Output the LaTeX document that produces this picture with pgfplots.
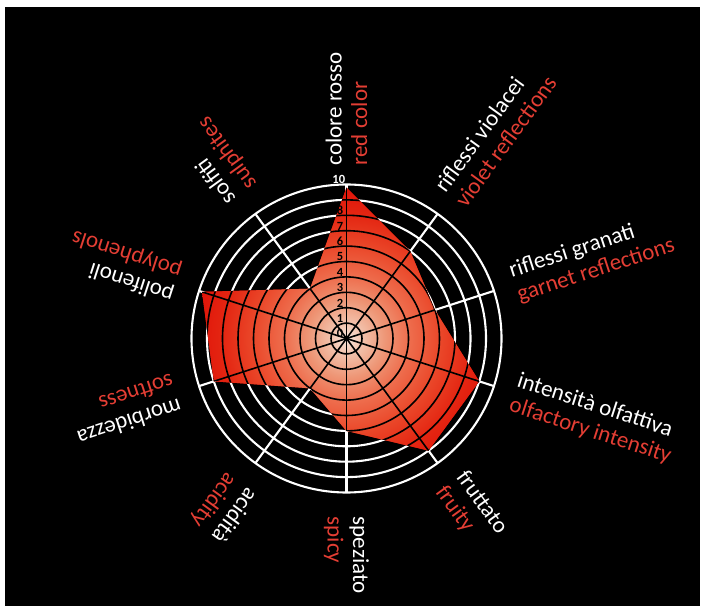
\documentclass[border=0pt]{standalone}
\usepackage{pgfplots}
\pgfplotsset{compat=1.18}
\usepackage{fontspec}
\setmainfont{Carlito}
\definecolor{g0}{RGB}{248,228,218}
\definecolor{g1}{RGB}{242,194,172}
\definecolor{g2}{RGB}{238,150,118}
\definecolor{g3}{RGB}{238,110,78}
\definecolor{g4}{RGB}{234,72,42}
\definecolor{g5}{RGB}{228,38,18}
\definecolor{g6}{RGB}{224,18,8}
\definecolor{labred}{RGB}{228,62,52}
\pgfdeclareradialshading{wine}{\pgfpoint{0bp}{0bp}}{color(0bp)=(g0); color(2.5bp)=(g1); color(6.25bp)=(g2); color(10bp)=(g3); color(15bp)=(g4); color(20bp)=(g5); color(25bp)=(g6); color(50bp)=(g6)}
\newcommand\lab{\fontsize{23bp}{25.5bp}\selectfont}
\newcommand\tk{\fontsize{12.5bp}{12.5bp}\selectfont\bfseries}
\tikzset{inner/.style={path picture={}, fill=none}}
\begin{document}
\begin{tikzpicture}
\fill[white] (0,0) rectangle (708bp,606bp);
\fill[black] (5bp,0) rectangle (700bp,599bp);
\begin{axis}[
  at={(346.5bp,267.5bp)}, anchor=origin,
  x=15.5bp, y=15.4bp,
  xmin=-10.5, xmax=10.5, ymin=-10.5, ymax=10.5,
  hide axis, clip=false,
]
\coordinate (C) at (axis cs:0,0);
\pgfplotsinvokeforeach{1,...,10}{\draw[white, line width=2.1bp] (C) ellipse [x radius=#1*15.5bp, y radius=#1*15.4bp];}
\pgfplotsinvokeforeach{90,54,18,-18,-54,-90,-126,-162,162,126}{\draw[white, line width=2.1bp] (C) -- ++({155bp*cos(#1)},{154bp*sin(#1)});}
\addplot[data cs=polar, draw=none, fill=g6, path picture={
  \shade[inner, shading=wine] (C) circle (155bp);
  \foreach \k in {1,...,10} {\draw[inner, draw=black, line width=1.6bp] (C) ellipse [x radius=\k*15.5bp, y radius=\k*15.4bp];}
  \foreach \a in {90,54,18,-18,-54,-90,-126,-162,162,126} {\draw[inner, draw=black, line width=1.6bp] (C) -- ++({155bp*cos(\a)},{154bp*sin(\a)});}
}] coordinates {(90,9.8) (54,7) (18,6) (-18,9) (-54,9) (-90,6) (-126,4) (-162,9) (162,9.8) (126,4) (90,9.8)};
\pgfplotsinvokeforeach{0,...,9}{\node[font=\tk, text=black, anchor=south, inner sep=0.3bp] at (axis cs:-0.42,#1) {#1};}
\node[font=\tk, text=white, anchor=south, inner sep=0.3bp] at (axis cs:-0.5,10) {10};
\node[rotate=90, anchor=west, align=left, inner sep=0pt, font=\lab] at ([shift={(90:173bp)}]C) {\textcolor{white}{colore rosso}\\\textcolor{labred}{red color}};
\node[rotate=54, anchor=west, align=left, inner sep=0pt, font=\lab] at ([shift={(54:175bp)}]C) {\textcolor{white}{riflessi violacei}\\\textcolor{labred}{violet reflections}};
\node[rotate=18, anchor=west, align=left, inner sep=0pt, font=\lab] at ([shift={(18:176bp)}]C) {\textcolor{white}{riflessi granati}\\\textcolor{labred}{garnet reflections}};
\node[rotate=-18, anchor=west, align=left, inner sep=0pt, font=\lab] at ([shift={(-18:176bp)}]C) {\textcolor{white}{intensità olfattiva}\\\textcolor{labred}{olfactory intensity}};
\node[rotate=-54, anchor=west, align=left, inner sep=0pt, font=\lab] at ([shift={(-54:176bp)}]C) {\textcolor{white}{fruttato}\\\textcolor{labred}{fruity}};
\node[rotate=-90, anchor=west, align=left, inner sep=0pt, font=\lab] at ([shift={(-90:178bp)}]C) {\textcolor{white}{speziato}\\\textcolor{labred}{spicy}};
\node[rotate=-126, anchor=west, align=left, inner sep=0pt, font=\lab] at ([shift={(-126:178bp)}]C) {\textcolor{white}{acidità}\\\textcolor{labred}{acidity}};
\node[rotate=-162, anchor=west, align=left, inner sep=0pt, font=\lab] at ([shift={(-162:178bp)}]C) {\textcolor{white}{morbidezza}\\\textcolor{labred}{softness}};
\node[rotate=162, anchor=west, align=left, inner sep=0pt, font=\lab] at ([shift={(162:178bp)}]C) {\textcolor{white}{polifenoli}\\\textcolor{labred}{polyphenols}};
\node[rotate=126, anchor=west, align=left, inner sep=0pt, font=\lab] at ([shift={(126:178bp)}]C) {\textcolor{white}{solfiti}\\\textcolor{labred}{sulphites}};
\end{axis}
\end{tikzpicture}
\end{document}
